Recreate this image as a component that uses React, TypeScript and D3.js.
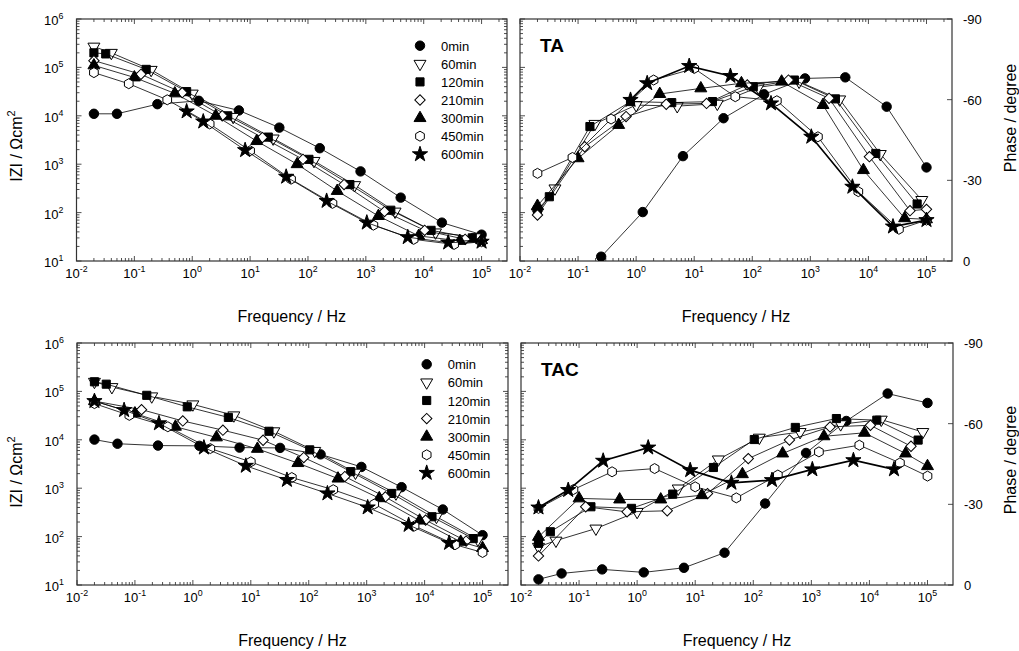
import * as d3 from 'd3';

// series names / markers
const seriesNames = ['0min', '60min', '120min', '210min', '300min', '450min', '600min'];

// frequencies (Hz) of each series, shared by TA and TAC
const f0 = [0.02, 0.05, 0.25, 1.3, 6.4, 32, 160, 810, 4000, 20600, 100000];
const f60 = [0.02, 0.04, 0.195, 1.0, 5.1, 25, 127, 640, 3200, 16000, 83000];
const f120 = [0.02, 0.032, 0.16, 0.8, 4.1, 20.6, 104, 530, 2700, 13400, 69000];
const f210 = [0.02, 0.13, 0.67, 3.3, 16.3, 82, 420, 2100, 10400, 52000, 100000];
const f300 = [0.02, 0.1, 0.5, 2.55, 13, 65, 320, 1650, 8200, 42000, 100000];
const f450 = [0.02, 0.08, 0.37, 2.0, 10, 51, 265, 1350, 6700, 33500, 100000];
const f600 = [0.02, 0.065, 0.26, 0.8, 1.55, 8.2, 42, 210, 1040, 5300, 26500, 100000];

// TA |Z| (ohm cm2)
const taZ0 = [11000, 11000, 17400, 20400, 12900, 5700, 2140, 710, 204, 62, 35];
const taZ60 = [269000, 200000, 89000, 28800, 9500, 3400, 1170, 370, 105, 39, 31];
const taZ120 = [200000, 190000, 91000, 31600, 10000, 3630, 1260, 380, 112, 43, 30];
const taZ210 = [138000, 72000, 30000, 10000, 3550, 1260, 380, 105, 43, 28, 27];
const taZ300 = [110000, 62000, 29000, 10000, 3000, 1000, 280, 85, 33, 26, 27];
const taZ450 = [78000, 46000, 21400, 6800, 1900, 490, 155, 55, 28, 22, 25];
const taZ600 = [null, null, null, 12300, 7600, 1950, 550, 174, 62, 31, 24, 25];

// TA phase (degree)
const taP0 = [null, null, -1.6, -18.2, -39.0, -53.1, -62.0, -67.9, -68.3, -57.4, -34.8];
const taP60 = [-18, -27, -51, -58, -57.6, -58.5, -64.6, -66.7, -60.1, -39.8, -22.7];
const taP120 = [-19, -23.9, -50.0, -59.3, -58.9, -59.3, -64.8, -67.3, -60.3, -40.0, -21.2];
const taP210 = [-17.1, -42.5, -53.7, -58.3, -58.6, -65.5, -67.3, -60.5, -38.8, -18.7, -19.2];
const taP300 = [-20.5, -38.2, -50.6, -62.1, -64.2, -66.1, -66.7, -58.0, -33.8, -15.9, -15.5];
const taP450 = [-32.6, -38.5, -52.8, -67.3, -71.6, -61.1, -59.6, -46.2, -25.8, -11.8, -15.2];
const taP600 = [null, null, null, -59.9, -66.1, -72.5, -68.8, -58.6, -46.2, -27.6, -12.8, -15.2];

// TAC |Z| (ohm cm2)
const tacZ0 = [10100, 8300, 7600, 7500, 6900, 6800, 5000, 2750, 1050, 363, 107];
const tacZ60 = [158000, 123000, 79000, 54000, 32000, 15000, 5900, 2100, 780, 257, 87];
const tacZ120 = [158000, 141000, 83000, 48000, 29000, 15000, 6200, 2200, 780, 257, 91];
const tacZ210 = [63000, 42000, 24500, 15800, 9800, 4300, 1740, 660, 219, 81, null];
const tacZ300 = [63000, 35000, 18600, 11200, 6500, 3300, 1580, 620, 214, 78, 58];
const tacZ450 = [56000, 32000, 18600, 6600, 3500, 1660, 930, 470, 166, 68, 47];
const tacZ600 = [63000, 41000, 21900, null, 6900, 2900, 1480, 780, 400, 174, 74, null];

// TAC phase (degree)
const tacP0 = [-2.1, -4.3, -5.8, -4.7, -6.4, -12.0, -30.3, -49.1, -61.0, -71.2, -67.7];
const tacP60 = [-14.2, -16.5, -21.0, -27.2, -35.9, -46.7, -54.8, -56.9, -59.8, -61.5, -56.9];
const tacP120 = [-15.5, -19.8, -29.1, -28.5, -33.8, -43.7, -54.1, -58.6, -61.9, -61.3, -53.9];
const tacP210 = [-10.8, -29.1, -27.2, -27.6, -34.0, -47.0, -53.9, -58.8, -59.4, -51.6, null];
const tacP300 = [-17.9, -32.2, -31.8, -31.8, -33.4, -41.2, -48.9, -55.3, -56.6, -48.9, -44.2];
const tacP450 = [-28.5, -35.5, -42.1, -43.3, -36.5, -32.4, -40.9, -49.5, -52.0, -45.4, -40.5];
const tacP600 = [-28.8, -35.3, -46.2, null, -51.1, -42.7, -38.0, -39.0, -43.0, -46.4, -43.0, null];

const xTickExps = [-2, -1, 0, 1, 2, 3, 4, 5];
const zTickExps = [1, 2, 3, 4, 5, 6];
const phaseTicks = [-90, -60, -30, 0];

const freqs = [f0, f60, f120, f210, f300, f450, f600];
const taZ = [taZ0, taZ60, taZ120, taZ210, taZ300, taZ450, taZ600];
const taP = [taP0, taP60, taP120, taP210, taP300, taP450, taP600];
const tacZ = [tacZ0, tacZ60, tacZ120, tacZ210, tacZ300, tacZ450, tacZ600];
const tacP = [tacP0, tacP60, tacP120, tacP210, tacP300, tacP450, tacP600];

const FONT = '"Liberation Sans", Arial, sans-serif';
const fDomain: [number, number] = [0.01, 275000];

type Pt = { f: number; v: number };

const hexPath = (() => {
  const r = 5;
  const p = d3.path();
  for (let k = 0; k < 6; k++) {
    const a = Math.PI / 2 + (k * Math.PI) / 3;
    const x = r * Math.cos(a), y = r * Math.sin(a);
    if (k === 0) p.moveTo(x, y); else p.lineTo(x, y);
  }
  p.closePath();
  return p.toString();
})();

// marker style per series
const markers = [
  { d: d3.symbol(d3.symbolCircle, 70)() as string, rot: 0, fill: '#000' },
  { d: d3.symbol(d3.symbolTriangle, 62)() as string, rot: 180, fill: '#fff' },
  { d: d3.symbol(d3.symbolSquare, 66)() as string, rot: 0, fill: '#000' },
  { d: d3.symbol(d3.symbolSquare, 54)() as string, rot: 45, fill: '#fff' },
  { d: d3.symbol(d3.symbolTriangle, 62)() as string, rot: 0, fill: '#000' },
  { d: hexPath, rot: 0, fill: '#fff' },
  { d: d3.symbol(d3.symbolStar, 72)() as string, rot: 0, fill: '#000' },
];

function Marker({ i, x, y }: { i: number; x: number; y: number }) {
  const m = markers[i];
  return (
    <path d={m.d} transform={`translate(${x},${y}) rotate(${m.rot})`}
      fill={m.fill} stroke="#000" strokeWidth={1} />
  );
}

function Pow({ x, y, exp, anchor, size = 13 }: { x: number; y: number; exp: number; anchor: string; size?: number }) {
  return (
    <text x={x} y={y} textAnchor={anchor} fontFamily={FONT} fontSize={size} fill="#000">
      10<tspan dy={-6} fontSize={size * 0.68}>{exp}</tspan>
    </text>
  );
}

function Panel({ x0, y0, w, h, kind, values, legend, label, showZLabels }: any) {
  const xs = d3.scaleLog().domain(fDomain).range([x0, x0 + w]);
  const zs = d3.scaleLog().domain([10, 1e6]).range([y0 + h, y0]);
  const ps = d3.scaleLinear().domain([0, -90]).range([y0 + h, y0]);
  const ys = (v: number) => (kind === 'mod' ? zs(v) : ps(v));
  const line = d3.line<Pt>().x(d => xs(d.f)).y(d => ys(d.v));
  const isMajor = (t: number) => Math.abs(Math.log10(t) - Math.round(Math.log10(t))) < 1e-6;
  const xt = xs.ticks().filter(t => t >= fDomain[0] && t <= fDomain[1]);
  const zt = zs.ticks();
  const clipId = `clip-${x0}-${y0}`;

  return (
    <g>
      <defs>
        <clipPath id={clipId}><rect x={x0} y={y0} width={w} height={h} /></clipPath>
      </defs>
      {/* x ticks top & bottom */}
      {xt.map((t, i) => {
        const len = isMajor(t) ? 5 : 3;
        const x = xs(t);
        return (
          <g key={'x' + i} stroke="#222" strokeWidth={0.8}>
            <line x1={x} x2={x} y1={y0 + h} y2={y0 + h - len} />
            <line x1={x} x2={x} y1={y0} y2={y0 + len} />
          </g>
        );
      })}
      {/* log ticks on left (and right for |Z|) */}
      {zt.map((t, i) => {
        const len = isMajor(t) ? 5 : 3;
        const y = zs(t);
        return (
          <g key={'z' + i} stroke="#222" strokeWidth={0.8}>
            <line x1={x0} x2={x0 + len} y1={y} y2={y} />
            {kind === 'mod' && <line x1={x0 + w} x2={x0 + w - len} y1={y} y2={y} />}
          </g>
        );
      })}
      {kind === 'phase' && phaseTicks.map(t => (
        <line key={'p' + t} x1={x0 + w} x2={x0 + w - 5} y1={ps(t)} y2={ps(t)} stroke="#222" strokeWidth={0.8} />
      ))}
      <rect x={x0} y={y0} width={w} height={h} fill="none" stroke="#333" strokeWidth={1.2} />

      {/* x tick labels */}
      {xTickExps.map(e => (
        <Pow key={'xl' + e} x={xs(Math.pow(10, e))} y={y0 + h + 17} exp={e} anchor="middle" />
      ))}
      {kind === 'mod' && showZLabels && zTickExps.map(e => (
        <Pow key={'zl' + e} x={x0 - 13} y={zs(Math.pow(10, e)) + 6} exp={e} anchor="end" />
      ))}
      {kind === 'phase' && phaseTicks.map(t => (
        <text key={'pl' + t} x={x0 + w + 11} y={ps(t) + 5} fontFamily={FONT} fontSize={13}>{t}</text>
      ))}

      {/* series */}
      <g clipPath={`url(#${clipId})`}>
        {values.map((vals: (number | null)[], si: number) => {
          const pts: Pt[] = freqs[si]
            .map((f, k) => ({ f, v: vals[k] as number }))
            .filter(d => d.v != null);
          const bold = si === 6 && kind === 'phase';
          return (
            <g key={'s' + si}>
              <path d={line(pts) as string} fill="none" stroke="#000" strokeWidth={bold ? 1.7 : 0.8} />
              {pts.map((d, k) => <Marker key={k} i={si} x={xs(d.f)} y={ys(d.v)} />)}
            </g>
          );
        })}
      </g>

      {legend && seriesNames.map((n, i) => (
        <g key={'lg' + i}>
          <Marker i={i} x={legend.x} y={legend.y + i * 18.1} />
          <text x={legend.x + 21} y={legend.y + i * 18.1 + 5} fontFamily={FONT} fontSize={13}>{n}</text>
        </g>
      ))}
      {label && (
        <text x={x0 + 20} y={y0 + 33} fontFamily={FONT} fontSize={19} fontWeight="bold">{label}</text>
      )}

      <text x={x0 + w / 2} y={y0 + h + 61} textAnchor="middle" fontFamily={FONT} fontSize={16}>Frequency / Hz</text>
    </g>
  );
}

function ZTitle({ cy }: { cy: number }) {
  return (
    <text transform={`translate(22,${cy}) rotate(-90)`} textAnchor="middle" fontFamily={FONT} fontSize={16}>
      IZI / Ωcm<tspan dy={-7} fontSize={11}>2</tspan>
    </text>
  );
}

function PTitle({ cy }: { cy: number }) {
  return (
    <text transform={`translate(1016,${cy}) rotate(-90)`} textAnchor="middle" fontFamily={FONT} fontSize={16}>
      Phase / degree
    </text>
  );
}

export default function App() {
  return (
    <svg width={1019} height={651} viewBox="0 0 1019 651"
      style={{ position: 'absolute', left: 0, top: 0, background: '#fff' }}>
      <rect width={1019} height={651} fill="#fff" />
      <Panel x0={76.5} y0={19} w={430.5} h={242} kind="mod" values={taZ} showZLabels legend={{ x: 420, y: 45.7 }} />
      <Panel x0={520} y0={19} w={432} h={242} kind="phase" values={taP} label="TA" />
      <Panel x0={77} y0={343} w={431} h={242} kind="mod" values={tacZ} showZLabels legend={{ x: 426.7, y: 364.3 }} />
      <Panel x0={521} y0={343} w={432} h={242} kind="phase" values={tacP} label="TAC" />
      <ZTitle cy={146} />
      <ZTitle cy={472} />
      <PTitle cy={118} />
      <PTitle cy={460} />
    </svg>
  );
}
